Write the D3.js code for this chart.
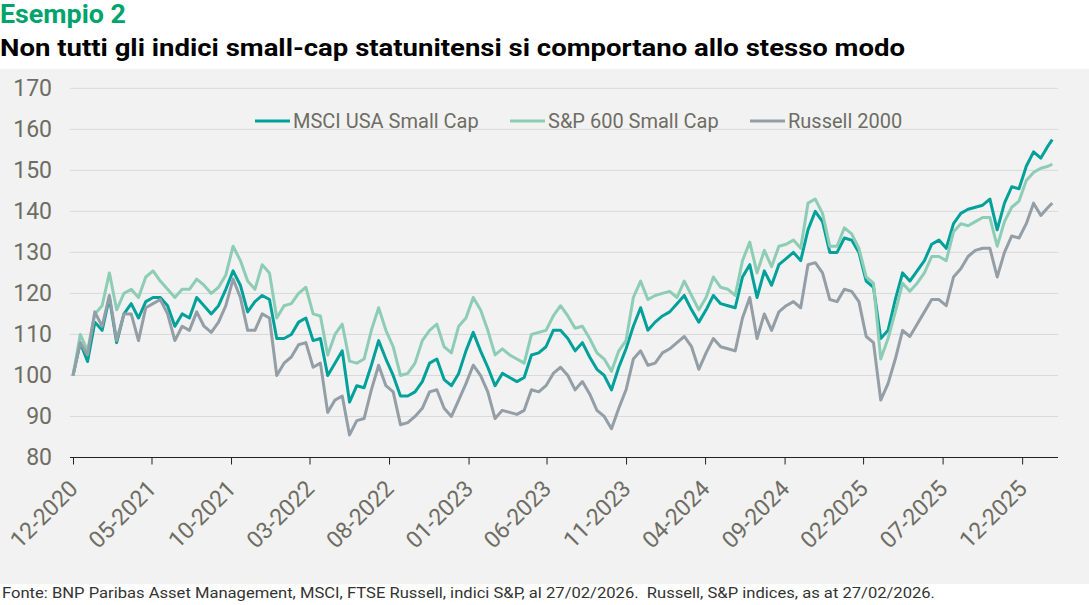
<!DOCTYPE html>
<html>
<head>
<meta charset="utf-8">
<script src="https://cdn.jsdelivr.net/npm/d3@7"></script>
<style>
  body { margin: 0; background: #fff; }
  svg { display: block; }
  text { font-family: Roboto, "Liberation Sans", sans-serif; }
</style>
</head>
<body>
<svg id="chart" width="1089" height="605"></svg>
<script>
// series, one value every 14 days from 31/12/2020, last one 27/02/2026
var msci = [100,108,103.4,113,111,119,108,115,117.5,114,118,119,119,117,112,115,114,119,117,115,117,121,125.5,
  122,115.5,118,119.5,118.5,109,109,110,113,114,108.5,109,100,103,106,93.5,97.5,97,102.5,108.5,104,100,95,
  95,96,98.5,103,104,99,97.5,100.5,106,110.5,106,102,97.5,100.5,99.5,98.5,99.5,105,105.5,107,111,111,
  109,106,108,104.5,101.5,100,96.5,102,106.5,112,116.5,111,113,114.5,115.5,117.5,119.5,116,113,116,119.5,117.5,117,
  116.5,124,127,119,125.5,122,127,128.5,130,128,135.5,140,137.5,130,130,133.5,133,130,123,121.5,109,111,118.5,
  125,123,125.5,128,132,133,131,137,139.5,140.5,141,141.5,143,135.5,142,146,145.5,151,154.5,153,156,157.5];
var sp600 = [100,110,106,115,117,125,116,120,121,119,124,125.5,123,121,119,121,121,123.5,122,120,121.5,124.5,131.5,
  128,123,121,127,125,114,117,117.5,120,121.5,115,114.5,105,110,112.5,103.5,103,104,111,116.5,111,107,100,
  100.5,103,108.5,111,112.5,107,105.5,112,114,119,116,111,105,106.5,105,104,103,110,110.5,111,114.5,117,
  114.5,111.5,112,109,105.5,104,101,106,108.5,119,123,118.5,119.5,120,120.5,119,123,119.5,116,119,124,121.5,121,
  119.5,128,132.5,125,130.5,126.5,131.5,132,133,131,142,143,139.5,131.5,131.5,136,134.5,131,124,122.5,104,109,115.5,
  122.5,120.5,122.5,125,129,129,128,135,137,136.5,137.5,138.5,138.5,131.5,137.5,141,142.5,147.5,149.5,150.5,151,151.5];
var russell = [100,108,105,115.5,112,119.5,108.5,115,115,108.5,116.5,117.5,118.5,115,108.5,112,111,115.5,112,110.5,113,117,123.5,
  119,111,111,115,114,100,103,104.5,107.5,108,102,103,91,94,95,85.5,89,89.5,96.5,102.5,97.5,96,88,
  88.5,90,92,96,96.5,92,90,94,98,102.5,100,96,89.5,91.5,91,90.5,91.5,96.5,96,97.5,100.5,102,
  100,96.5,98.5,95.5,91.5,90,87,92,96.5,104,106,102.5,103,105.5,106.5,108,109.5,107,101.5,105.5,109,107,106.5,
  106,114,119,109,115,111,115.5,117,118,116.5,127,127.5,125,118.5,118,121,120.5,118,109.5,108,94,98,104,
  111,109.5,112.5,115.5,118.5,118.5,117,124,126,129,130.5,131,131,124,130,134,133.5,137,142,139,141,142];
var seriesNames = ["MSCI USA Small Cap", "S&P 600 Small Cap", "Russell 2000"];
var seriesColors = ["#00a19b", "#8dcdb6", "#939ea6"];
var yTicks = [80, 90, 100, 110, 120, 130, 140, 150, 160, 170];
var xTickLabels = ["12-2020","05-2021","10-2021","03-2022","08-2022","01-2023","06-2023",
  "11-2023","04-2024","09-2024","02-2025","07-2025","12-2025"];

var startDate = new Date(2020, 11, 31);
var endDate = new Date(2026, 1, 27);
var dates = d3.range(msci.length - 1).map(function(i) { return d3.timeDay.offset(startDate, 14 * i); });
dates.push(endDate);

var svg = d3.select('#chart');

// titles
svg.append('text').attr('x', 0).attr('y', 23)
  .attr('font-size', 25).attr('font-weight', 700).attr('fill', '#00a36c')
  .attr('textLength', 126).attr('lengthAdjust', 'spacingAndGlyphs')
  .text('Esempio 2');
svg.append('text').attr('x', 0).attr('y', 56)
  .attr('font-size', 24).attr('font-weight', 700).attr('fill', '#000')
  .attr('textLength', 905).attr('lengthAdjust', 'spacingAndGlyphs')
  .text('Non tutti gli indici small-cap statunitensi si comportano allo stesso modo');

// panel
svg.append('rect').attr('x', 0).attr('y', 69).attr('width', 1089).attr('height', 515).attr('fill', '#f2f2f2');

var x = d3.scaleTime().domain([startDate, new Date(2026, 2, 10)]).range([73, 1058]);
var y = d3.scaleLinear().domain([80, 170]).range([457.5, 88.3]);

// grid
svg.append('g').selectAll('line').data(yTicks.slice(1)).enter().append('line')
  .attr('x1', 70).attr('x2', 1058)
  .attr('y1', function(d) { return y(d); }).attr('y2', function(d) { return y(d); })
  .attr('stroke', '#d9d9d9').attr('stroke-width', 1);

// y axis labels
var yAxis = d3.axisLeft(y).tickValues(yTicks).tickSize(0).tickPadding(0);
var gy = svg.append('g').attr('transform', 'translate(52,0)').call(yAxis);
gy.select('.domain').remove();
gy.selectAll('text').attr('font-size', 23).attr('fill', '#6e6d64')
  .style('font-family', 'Roboto, sans-serif');

// x axis
var tickDates = xTickLabels.map(function(s) {
  var p = s.split('-');
  return new Date(+p[1], +p[0], 0);
});
var xAxis = d3.axisBottom(x).tickValues(tickDates).tickSize(7).tickSizeOuter(0)
  .tickFormat(d3.timeFormat('%m-%Y'));
var gx = svg.append('g').attr('transform', 'translate(0,457.5)').call(xAxis);
gx.select('.domain').attr('d', 'M70,0H1058').attr('stroke', '#222');
gx.selectAll('.tick line').attr('stroke', '#222');
gx.selectAll('text')
  .attr('font-size', 23).attr('fill', '#6e6d64')
  .style('font-family', 'Roboto, sans-serif')
  .attr('text-anchor', 'end')
  .attr('dy', '0.35em').attr('y', 0)
  .attr('transform', 'translate(0,27) rotate(-45)');

// lines
var allSeries = [msci, sp600, russell];
var line = d3.line()
  .x(function(d, i) { return x(dates[i]); })
  .y(function(d) { return y(d); });
svg.append('g').selectAll('path').data(allSeries).enter().append('path')
  .attr('d', line)
  .attr('fill', 'none')
  .attr('stroke', function(d, i) { return seriesColors[i]; })
  .attr('stroke-width', 3)
  .attr('stroke-linejoin', 'round');

// legend
var legendX = [255, 510, 750];
var lg = svg.append('g').selectAll('g').data(seriesNames).enter().append('g')
  .attr('transform', function(d, i) { return 'translate(' + legendX[i] + ',121)'; });
lg.append('line').attr('x1', 0).attr('x2', 35).attr('y1', 0).attr('y2', 0)
  .attr('stroke', function(d, i) { return seriesColors[i]; }).attr('stroke-width', 3);
lg.append('text').attr('x', 38).attr('dy', '0.35em')
  .attr('font-size', 20).attr('fill', '#6e6d64')
  .text(function(d) { return d; });

// source
svg.append('text').attr('x', 2).attr('y', 598)
  .attr('font-size', 15).attr('fill', '#333')
  .style('white-space', 'pre')
  .attr('textLength', 933).attr('lengthAdjust', 'spacingAndGlyphs')
  .text('Fonte: BNP Paribas Asset Management, MSCI, FTSE Russell, indici S&P, al 27/02/2026.  Russell, S&P indices, as at 27/02/2026.');
</script>
</body>
</html>
